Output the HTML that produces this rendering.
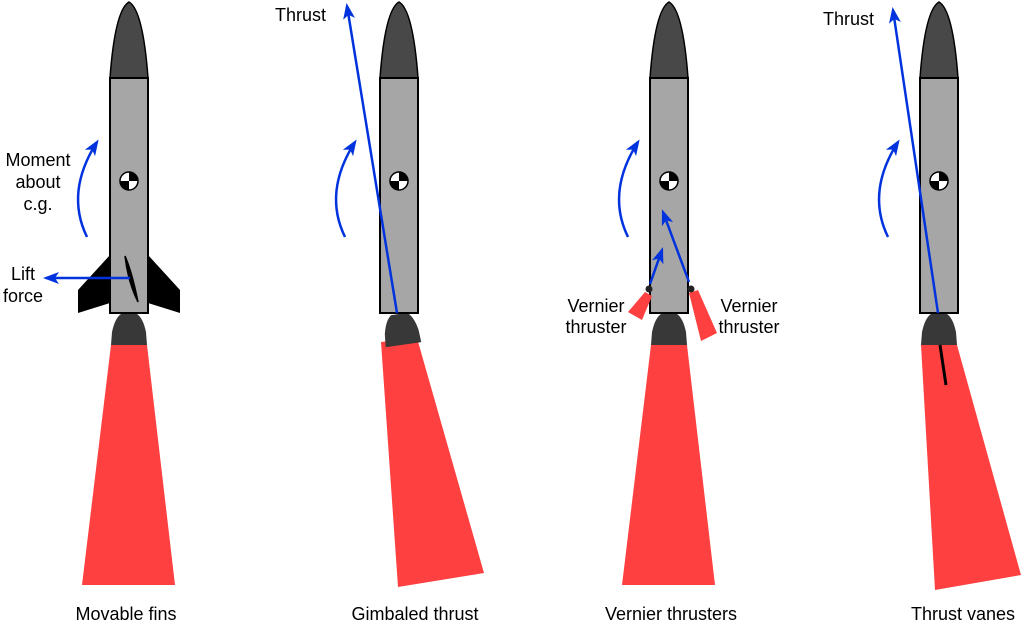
<!DOCTYPE html>
<html><head><meta charset="utf-8"><style>
html,body{margin:0;padding:0;background:#fff}
svg{display:block}
text{font-family:"Liberation Sans",Arial,sans-serif;font-size:18px;fill:#000}
</style></head><body>
<svg width="1024" height="627" viewBox="0 0 1024 627">
<defs>
<marker id="ah" markerWidth="16" markerHeight="12" refX="13" refY="6" orient="auto" markerUnits="userSpaceOnUse">
<path d="M0,0 L16,6 L0,12 L4,6 Z" fill="#0033dd"/></marker>
<g id="cg"><circle r="9" fill="#fff" stroke="#000" stroke-width="1.5"/><path d="M0,0 L9,0 A9,9 0 0,0 0,-9 Z M0,0 L-9,0 A9,9 0 0,0 0,9 Z" fill="#000"/></g>
<g id="rocketbody">
<path d="M-19,78 Q-14,10 0,2 Q14,10 19,78 Z" fill="#484848" stroke="#000" stroke-width="1.5"/>
<rect x="-19" y="78" width="38" height="235" fill="#a6a6a6" stroke="#000" stroke-width="2"/>
<use href="#cg" x="0" y="181"/>
</g>
<g id="nozzle"><path d="M-18,345 L-17,332 Q-14,318 -8,314 L8,314 Q14,318 17,332 L18,345 Z" fill="#383838"/></g>
<path id="arc" d="M0,0 Q-22,-45 10,-95" fill="none" stroke="#0033dd" stroke-width="2.5" marker-end="url(#ah)"/>
</defs>

<g>
<path d="M111,345 L147,345 L175,585 L82,585 Z" fill="#ff4040"/>
<use href="#nozzle" x="129"/>
<path d="M110,255 L78,290 L78,313 L110,303 Z" fill="#000"/>
<path d="M148,255 L180,290 L180,313 L148,303 Z" fill="#000"/>
<use href="#rocketbody" x="129"/>
<path d="M125,256 Q132,272 138,302 Q128,282 125,256 Z" fill="#000" stroke="#000" stroke-width="1.5"/>
<line x1="130" y1="278" x2="46" y2="278" stroke="#0033dd" stroke-width="2.5" marker-end="url(#ah)"/>
<use href="#arc" x="87" y="237"/>
<text x="38" y="166" text-anchor="middle">Moment</text>
<text x="38" y="188" text-anchor="middle">about</text>
<text x="38" y="210" text-anchor="middle">c.g.</text>
<text x="23" y="280" text-anchor="middle">Lift</text>
<text x="23" y="302" text-anchor="middle">force</text>
</g>

<g>
<path d="M381,342 L417,338 L484,573 L398,587 Z" fill="#ff4040"/>
<g transform="rotate(-8 399 313)"><use href="#nozzle" x="399"/></g>
<use href="#rocketbody" x="399"/>
<line x1="397" y1="313" x2="347" y2="6" stroke="#0033dd" stroke-width="2.5" marker-end="url(#ah)"/>
<use href="#arc" x="345" y="237"/>
<text x="275" y="21">Thrust</text>
</g>

<g>
<path d="M651,345 L687,345 L715,585 L622,585 Z" fill="#ff4040"/>
<use href="#nozzle" x="669"/>
<use href="#rocketbody" x="669"/>
<path d="M645,292 L652,296 L642,320 L628,312 Z" fill="#ff4040"/>
<circle cx="649" cy="289" r="3.5" fill="#222"/>
<path d="M689,293 L698,290 L717,333 L701,341 Z" fill="#ff4040"/>
<circle cx="691" cy="289" r="3.5" fill="#222"/>
<line x1="650" y1="284" x2="662" y2="250" stroke="#0033dd" stroke-width="2.5" marker-end="url(#ah)"/>
<line x1="689" y1="282" x2="663" y2="212" stroke="#0033dd" stroke-width="2.5" marker-end="url(#ah)"/>
<use href="#arc" x="628" y="237"/>
<text x="596" y="312" text-anchor="middle">Vernier</text>
<text x="596" y="333" text-anchor="middle">thruster</text>
<text x="749" y="312" text-anchor="middle">Vernier</text>
<text x="749" y="333" text-anchor="middle">thruster</text>
</g>

<g>
<path d="M921,345 L957,345 L1021,575 L935,590 Z" fill="#ff4040"/>
<use href="#nozzle" x="939"/>
<use href="#rocketbody" x="939"/>
<line x1="940" y1="345" x2="946" y2="385" stroke="#000" stroke-width="3"/>
<line x1="938" y1="313" x2="893" y2="10" stroke="#0033dd" stroke-width="2.5" marker-end="url(#ah)"/>
<use href="#arc" x="888" y="237"/>
<text x="823" y="25">Thrust</text>
</g>

<text x="126" y="620" text-anchor="middle">Movable fins</text>
<text x="415" y="620" text-anchor="middle">Gimbaled thrust</text>
<text x="671" y="620" text-anchor="middle">Vernier thrusters</text>
<text x="963" y="620" text-anchor="middle">Thrust vanes</text>
</svg>
</body></html>
